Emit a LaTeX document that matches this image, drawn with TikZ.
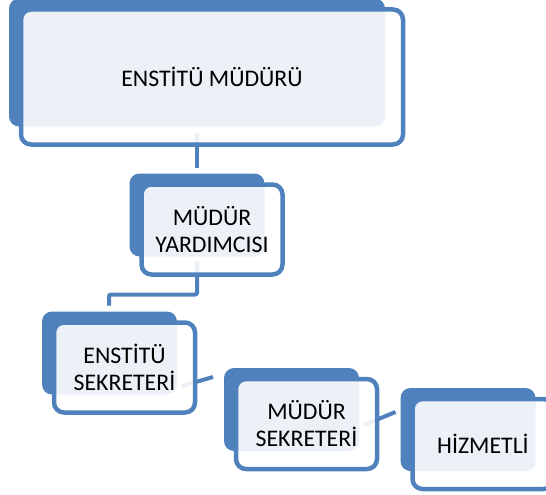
\documentclass[tikz,border=0pt]{standalone}
\usepackage{fontspec}
\setmainfont{Carlito}
\usetikzlibrary{calc,backgrounds}
\definecolor{boxblue}{HTML}{4F81BD}

\begin{document}
\begin{tikzpicture}
[x=1pt, y=-1pt, font=\fontsize{23.8}{27}\selectfont,
box/.style={rectangle, draw=boxblue, line width=4.5pt, rounded corners=10pt, fill=white, fill opacity=0.89, text opacity=1, align=center, inner sep=0pt, outer sep=0pt},
smallbox/.style={box, minimum width=141pt, minimum height=90pt},
back/.style={fill=boxblue, rounded corners=10pt},
conn/.style={draw=boxblue, line width=4pt}]

\useasboundingbox (0,0) rectangle (546,495);
\clip (0,0) rectangle (546,495);

\node[box, minimum width=382pt, minimum height=135pt] (em) at (212,77) {ENSTİTÜ MÜDÜRÜ};
\node[smallbox] (my) at (212,229.5) {MÜDÜR\\YARDIMCISI};
\node[smallbox] (es) at (124.5,367.5) {ENSTİTÜ\\SEKRETERİ};
\node[smallbox] (ms) at (306.5,424) {MÜDÜR\\SEKRETERİ};
\node[smallbox] (hz) at (483,444) {HİZMETLİ};

\begin{scope}[on background layer]
% blue backs behind each box
\foreach \n in {em,my,es,ms,hz}
  \fill[back] ($(\n.north west)+(-12,-11)$) rectangle ($(\n.south east)+(-18,-18)$);

\draw[conn] ($(em.south)+(-15,-12)$) -- ($(my.north)+(-15,-17)$);
\draw[conn, rounded corners=2pt] ($(my.south)+(-15,-13)$) -- ++(0,33) -| ($(es.north)+(-15.5,-17)$);
\draw[conn] ($(es.east)+(-13,18.5)$) -- ($(ms.west)+(-23,-47)$);
\draw[conn] ($(ms.east)+(-13,1)$) -- ($(hz.west)+(-17,-32)$);
\end{scope}
\end{tikzpicture}
\end{document}
